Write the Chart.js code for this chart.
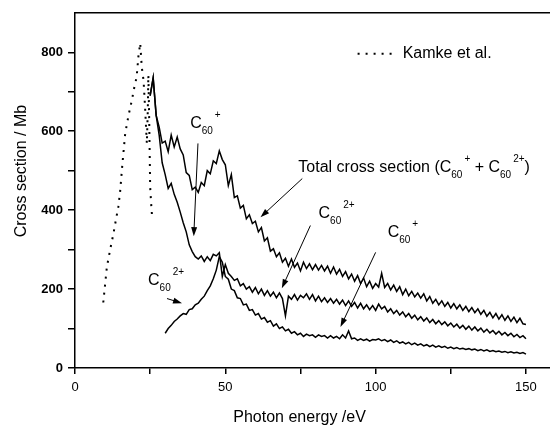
<!DOCTYPE html>
<html>
<head>
<meta charset="utf-8">
<script src="https://cdn.jsdelivr.net/npm/chart.js@4.4.1/dist/chart.umd.min.js"></script>
<style>
  html, body { margin: 0; padding: 0; background: #fff; }
  #wrap { width: 550px; height: 425px; }
</style>
</head>
<body>
<div id="wrap"><canvas id="myChart"></canvas></div>
<script>
// photon energy grid of the measurement, 1 eV steps
var energy = [];
for (var e = 25; e <= 150; e++) energy.push(e);

// total cross section, 25..150 eV
var totalCS = [
  690, 735, 640, 610, 570, 575, 548, 590, 560, 585,
  555, 540, 495, 488, 452, 458, 445, 470, 462, 500,
  492, 525, 518, 550, 528, 515, 462, 490, 432, 436,
  405, 412, 378, 388, 366, 372, 345, 356, 322, 330,
  296, 302, 282, 292, 268, 278, 258, 276, 255, 266,
  246, 268, 252, 264, 249, 262, 248, 260, 246, 258,
  240, 256, 238, 250, 232, 244, 226, 238, 220, 234,
  214, 228, 206, 220, 202, 214, 205, 240, 204, 214,
  198, 210, 194, 206, 186, 200, 183, 194, 180, 190,
  177, 188, 170, 181, 164, 174, 160, 170, 156, 166,
  152, 163, 150, 160, 146, 156, 143, 153, 140, 150,
  136, 146, 131, 141, 127, 138, 124, 135, 121, 132,
  118, 129, 115, 126, 112, 110
];

// C60+ , 25..150 eV
var singleCS = [
  690, 735, 640, 590, 520, 490, 455, 468, 440, 420,
  395, 368, 345, 312, 295, 282, 276, 284, 270, 282,
  272, 288, 284, 292, 232, 262, 240, 232, 222, 226,
  208, 214, 200, 206, 192, 204, 188, 200, 184, 196,
  182, 192, 178, 190, 176, 132, 182, 174, 186, 172,
  184, 178, 188, 174, 186, 170, 182, 168, 178, 166,
  176, 164, 174, 162, 172, 158, 170, 156, 166, 152,
  164, 150, 160, 148, 158, 146, 162, 150, 156, 142,
  150, 138, 146, 134, 142, 130, 138, 126, 134, 122,
  130, 119, 127, 115, 123, 112, 120, 110, 117, 107,
  114, 104, 111, 101, 108, 98, 106, 96, 104, 94,
  101, 91, 98, 89, 95, 86, 93, 84, 90, 82,
  88, 79, 85, 77, 82, 74
];

// C60 2+ , 30..150 eV
var doubleCS = [
  88, 100, 108, 118, 124, 132, 138, 136, 148, 150,
  160, 164, 174, 182, 196, 208, 226, 248, 282, 268,
  232, 225, 200, 196, 178, 176, 160, 162, 146, 148,
  134, 138, 124, 128, 116, 120, 106, 112, 100, 104,
  94, 98, 88, 92, 84, 88, 80, 86, 82, 84,
  78, 84, 80, 82, 76, 82, 76, 80, 74, 84,
  76, 94, 74, 76, 70, 74, 70, 73, 68, 72,
  71, 74, 69, 72, 67, 71, 65, 69, 63, 66,
  61, 65, 59, 63, 58, 61, 56, 59, 54, 58,
  53, 56, 52, 55, 50, 53, 49, 52, 48, 50,
  47, 49, 46, 48, 44, 47, 43, 46, 42, 44,
  41, 43, 40, 42, 39, 41, 38, 40, 37, 39,
  35
];

// Kamke et al.
var kamkeE = [9.4, 10.6, 11.7, 12.8, 13.6, 14.4, 15.0, 15.8, 16.7, 17.8, 18.9, 19.7, 20.5, 21.1, 21.7,
              22.2, 22.8, 23.3, 23.9, 24.2, 24.4, 24.7, 25.0, 25.3, 25.6];
var kamkeCS = [166, 256, 300, 341, 375, 408, 446, 520, 594, 640, 678, 710, 737, 790, 823,
               763, 729, 661, 569, 650, 742, 620, 459, 420, 387];

// tick marks and their labels
var xTickMarks = [0, 25, 50, 75, 100, 125, 150];
var xTickLabels = [0, 50, 100, 150];
var yTickMarks = [0, 100, 200, 300, 400, 500, 600, 700, 800];
var yTickLabels = [0, 200, 400, 600, 800];

var FONT = '"Liberation Sans", Arial, sans-serif';

function pairs(xs, ys, offset) {
  var out = [];
  for (var i = 0; i < ys.length; i++) out.push({x: xs[i + offset], y: ys[i]});
  return out;
}

// text labels and arrows, in data units
var chemLabels = [
  {x: 38.3, y: 619, sup: '+'},
  {x: 81, y: 392, sup: '2+'},
  {x: 104, y: 344, sup: '+'},
  {x: 24.3, y: 222, sup: '2+'}
];
var arrows = [
  [40.9, 569, 39.5, 334],
  [75.6, 480, 61.7, 382],
  [78.3, 361, 68.8, 202],
  [100, 293, 88.3, 104],
  [30.6, 176, 35.6, 164]
];

function drawChem(ctx, x, y, sup) {
  ctx.textBaseline = 'middle';
  ctx.textAlign = 'left';
  ctx.font = '16px ' + FONT;
  ctx.fillText('C', x, y);
  x += ctx.measureText('C').width;
  ctx.font = '10px ' + FONT;
  ctx.fillText('60', x, y + 8);
  var w = ctx.measureText('60').width;
  ctx.fillText(sup, x + w + 2, y - 8);
  return x + w + 2 + ctx.measureText(sup).width;
}

var labelPlugin = {
  id: 'labels',
  afterDraw: function (chart) {
    var ctx = chart.ctx, xs = chart.scales.x, ys = chart.scales.y, a = chart.chartArea;
    ctx.save();
    ctx.fillStyle = '#000';
    ctx.strokeStyle = '#000';

    // top frame line
    ctx.lineWidth = 1.5;
    ctx.beginPath();
    ctx.moveTo(a.left, a.top);
    ctx.lineTo(a.right, a.top);
    ctx.stroke();

    chemLabels.forEach(function (l) {
      drawChem(ctx, xs.getPixelForValue(l.x), ys.getPixelForValue(l.y), l.sup);
    });

    // total label
    var tx = xs.getPixelForValue(74.3), ty = ys.getPixelForValue(508);
    ctx.font = '16px ' + FONT;
    ctx.textBaseline = 'middle';
    ctx.fillText('Total cross section (', tx, ty);
    tx += ctx.measureText('Total cross section (').width;
    tx = drawChem(ctx, tx, ty, '+');
    ctx.font = '16px ' + FONT;
    ctx.fillText(' + ', tx, ty);
    tx += ctx.measureText(' + ').width;
    tx = drawChem(ctx, tx, ty, '2+');
    ctx.font = '16px ' + FONT;
    ctx.fillText(')', tx, ty);

    // arrows
    arrows.forEach(function (r) {
      var x1 = xs.getPixelForValue(r[0]), y1 = ys.getPixelForValue(r[1]);
      var x2 = xs.getPixelForValue(r[2]), y2 = ys.getPixelForValue(r[3]);
      var ang = Math.atan2(y2 - y1, x2 - x1);
      ctx.lineWidth = 1;
      ctx.beginPath();
      ctx.moveTo(x1, y1);
      ctx.lineTo(x2 - 6 * Math.cos(ang), y2 - 6 * Math.sin(ang));
      ctx.stroke();
      ctx.beginPath();
      ctx.moveTo(x2, y2);
      ctx.lineTo(x2 - 9 * Math.cos(ang) + 3 * Math.sin(ang), y2 - 9 * Math.sin(ang) - 3 * Math.cos(ang));
      ctx.lineTo(x2 - 9 * Math.cos(ang) - 3 * Math.sin(ang), y2 - 9 * Math.sin(ang) + 3 * Math.cos(ang));
      ctx.closePath();
      ctx.fill();
    });

    // Kamke legend
    var ly = ys.getPixelForValue(796);
    ctx.lineWidth = 2;
    ctx.setLineDash([2, 6]);
    ctx.beginPath();
    ctx.moveTo(xs.getPixelForValue(94), ly);
    ctx.lineTo(xs.getPixelForValue(107), ly);
    ctx.stroke();
    ctx.setLineDash([]);
    ctx.font = '16px ' + FONT;
    ctx.fillText('Kamke et al.', xs.getPixelForValue(109), ly);

    // axis titles
    ctx.textAlign = 'center';
    ctx.fillText('Photon energy /eV', xs.getPixelForValue(74.7), 418);
    ctx.translate(22, ys.getPixelForValue(499));
    ctx.rotate(-Math.PI / 2);
    ctx.fillText('Cross section / Mb', 0, 0);
    ctx.restore();
  }
};

var ctx = document.getElementById('myChart').getContext('2d');
var myChart = new Chart(ctx, {
  type: 'line',
  data: {
    datasets: [{
      label: 'Kamke et al.',
      data: pairs(kamkeE, kamkeCS, 0),
      borderColor: '#000',
      borderWidth: 2,
      borderDash: [2, 6],
      pointRadius: 0,
      fill: false
    }, {
      label: 'Total',
      data: pairs(energy, totalCS, 0),
      borderColor: '#000',
      borderWidth: 1.5,
      pointRadius: 0,
      fill: false
    }, {
      label: 'C60+',
      data: pairs(energy, singleCS, 0),
      borderColor: '#000',
      borderWidth: 1.5,
      pointRadius: 0,
      fill: false
    }, {
      label: 'C60 2+',
      data: pairs(energy, doubleCS, 5),
      borderColor: '#000',
      borderWidth: 1.5,
      pointRadius: 0,
      fill: false
    }]
  },
  options: {
    responsive: true,
    maintainAspectRatio: false,
    animation: false,
    layout: { padding: { top: 12, right: 0, left: 0, bottom: 0 } },
    plugins: { legend: { display: false }, tooltip: { enabled: false } },
    scales: {
      x: {
        type: 'linear',
        min: 0,
        max: 158,
        afterFit: function (s) { s.height = 57; },
        afterBuildTicks: function (s) { s.ticks = xTickMarks.map(function (v) { return {value: v}; }); },
        ticks: {
          color: '#000',
          font: { family: FONT, size: 13 },
          padding: 6,
          maxRotation: 0,
          autoSkip: false,
          callback: function (v) { return xTickLabels.indexOf(v) >= 0 ? v : ''; }
        },
        grid: { drawOnChartArea: false, drawTicks: true, tickLength: 6, color: '#000', lineWidth: 1.5 },
        border: { display: true, color: '#000', width: 1.5 }
      },
      y: {
        min: 0,
        max: 900,
        afterFit: function (s) { s.width = 75; },
        afterBuildTicks: function (s) { s.ticks = yTickMarks.map(function (v) { return {value: v}; }); },
        ticks: {
          color: '#000',
          font: { family: FONT, size: 13, weight: 'bold' },
          padding: 5,
          autoSkip: false,
          callback: function (v) { return yTickLabels.indexOf(v) >= 0 ? v : ''; }
        },
        grid: { drawOnChartArea: false, drawTicks: true, tickLength: 7, color: '#000', lineWidth: 1.5 },
        border: { display: true, color: '#000', width: 1.5 }
      }
    }
  },
  plugins: [labelPlugin]
});
</script>
</body>
</html>
